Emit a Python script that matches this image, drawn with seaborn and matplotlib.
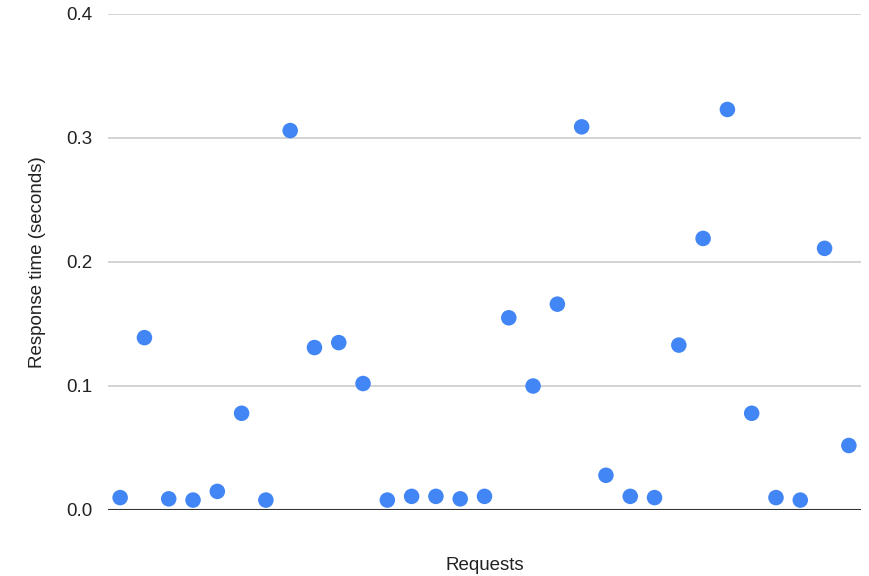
import matplotlib
matplotlib.use("Agg")
import matplotlib.pyplot as plt
import seaborn as sns
import pandas as pd

# Response time per request, in seconds
requests = list(range(1, 32))
response_time = [
    0.010, 0.139, 0.009, 0.008, 0.015, 0.078, 0.008, 0.306, 0.131, 0.135,
    0.102, 0.008, 0.011, 0.011, 0.009, 0.011, 0.155, 0.100, 0.166, 0.309,
    0.028, 0.011, 0.010, 0.133, 0.219, 0.323, 0.078, 0.010, 0.008, 0.211,
    0.052,
]
y_ticks = [0.0, 0.1, 0.2, 0.3, 0.4]
y_tick_labels = ["0.0", "0.1", "0.2", "0.3", "0.4"]

df = pd.DataFrame({"Requests": requests, "Response time (seconds)": response_time})

sns.set_theme(style="white")
plt.rcParams["font.family"] = ["Liberation Sans", "DejaVu Sans"]

fig = plt.figure(figsize=(8.69, 5.76), dpi=100)
ax = fig.add_axes([108 / 869, 1 - 510 / 576, (861 - 108) / 869, (510 - 14) / 576])

sns.scatterplot(
    data=df, x="Requests", y="Response time (seconds)", ax=ax,
    color="#4285F4", s=125, edgecolor="none", linewidth=0, zorder=3,
)

ax.set_xlim(0.5, 31.5)
ax.set_ylim(0, 0.4)
ax.set_yticks(y_ticks)
ax.set_yticklabels(y_tick_labels)
ax.set_xticks([])
ax.grid(axis="y", color="#CCCCCC", linewidth=1.2)
ax.axhline(0, color="#333333", linewidth=1.5, zorder=2)

for side in ["top", "right", "left", "bottom"]:
    ax.spines[side].set_visible(False)

ax.tick_params(axis="y", length=0, pad=11, labelsize=13.5, labelcolor="#222222")
ax.set_xlabel("Requests", fontsize=13.5, color="#222222", labelpad=34)
ax.set_ylabel("Response time (seconds)", fontsize=13.5, color="#222222", labelpad=15)
for c in ax.collections:
    c.set_clip_on(False)

fig.savefig("out.png", dpi=100, facecolor="white")
